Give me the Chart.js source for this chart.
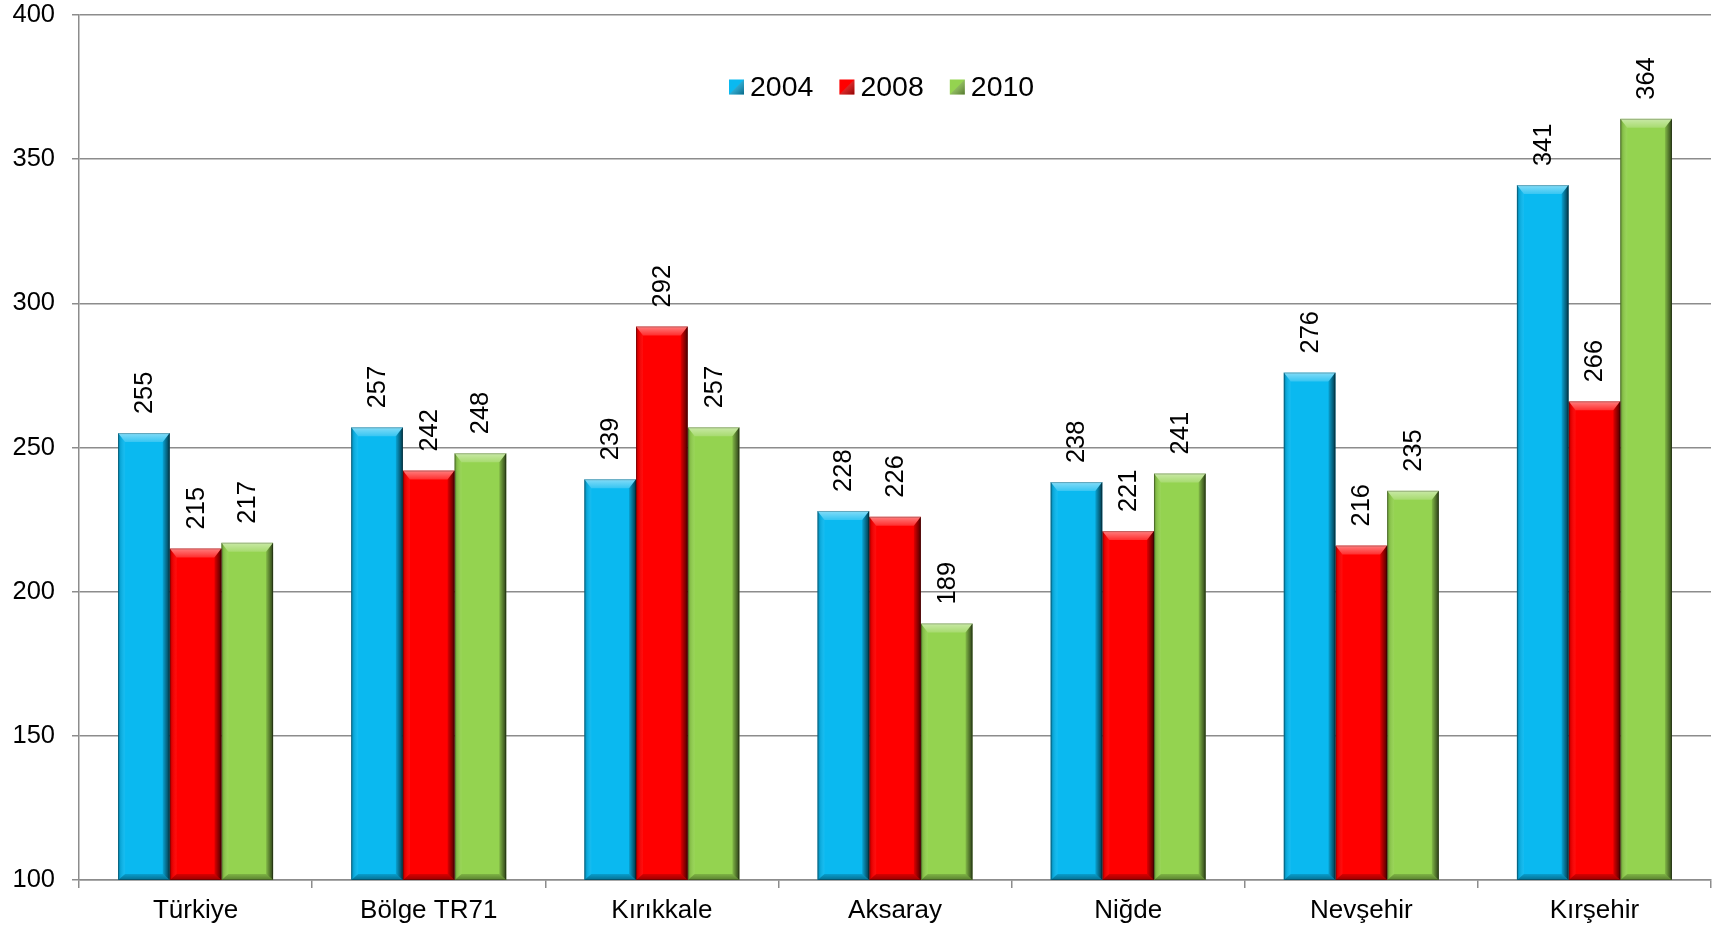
<!DOCTYPE html>
<html>
<head>
<meta charset="utf-8">
<script src="https://cdn.jsdelivr.net/npm/chart.js@4.4.1/dist/chart.umd.min.js"></script>
<style>
  html, body { margin: 0; padding: 0; background: #ffffff; }
  #wrap { width: 1719px; height: 931px; position: relative; }
</style>
</head>
<body>
<div id="wrap"><canvas id="c" width="1719" height="931"></canvas></div>
<script>
const categories = ["Türkiye", "Bölge TR71", "Kırıkkale", "Aksaray", "Niğde", "Nevşehir", "Kırşehir"];
const seriesNames = ["2004", "2008", "2010"];
const values2004 = [255, 257, 239, 228, 238, 276, 341];
const values2008 = [215, 242, 292, 226, 221, 216, 266];
const values2010 = [217, 248, 257, 189, 241, 235, 364];
const yTicks = [100, 150, 200, 250, 300, 350, 400];
const colors = ["#0AB9F0", "#FF0000", "#94D350"];

const FONT = "'Liberation Sans', Arial, sans-serif";

function bevel(ctx, L, R, T, B, alphaScale) {
  const s = alphaScale || 1;
  const w = R - L;
  const e = Math.min(7, w / 4);
  const tb = Math.min(9, (B - T) / 3);
  const bb = Math.min(6, (B - T) / 4);
  let g = ctx.createLinearGradient(0, T, 0, T + tb);
  g.addColorStop(0, 'rgba(255,255,255,' + 0.5 * s + ')');
  g.addColorStop(1, 'rgba(255,255,255,' + 0.18 * s + ')');
  ctx.fillStyle = g;
  ctx.beginPath();
  ctx.moveTo(L, T); ctx.lineTo(R, T); ctx.lineTo(R - e, T + tb); ctx.lineTo(L + e, T + tb); ctx.closePath();
  ctx.fill();
  g = ctx.createLinearGradient(R - e, 0, R, 0);
  g.addColorStop(0, 'rgba(0,0,0,' + 0.12 * s + ')');
  g.addColorStop(1, 'rgba(0,0,0,' + 0.7 * s + ')');
  ctx.fillStyle = g;
  ctx.beginPath();
  ctx.moveTo(R, T); ctx.lineTo(R, B); ctx.lineTo(R - e, B - bb); ctx.lineTo(R - e, T + tb); ctx.closePath();
  ctx.fill();
  g = ctx.createLinearGradient(L, 0, L + e, 0);
  g.addColorStop(0, 'rgba(0,0,0,' + 0.35 * s + ')');
  g.addColorStop(0.35, 'rgba(0,0,0,' + 0.1 * s + ')');
  g.addColorStop(1, 'rgba(255,255,255,' + 0.05 * s + ')');
  ctx.fillStyle = g;
  ctx.beginPath();
  ctx.moveTo(L, T); ctx.lineTo(L + e, T + tb); ctx.lineTo(L + e, B - bb); ctx.lineTo(L, B); ctx.closePath();
  ctx.fill();
  g = ctx.createLinearGradient(0, B - bb, 0, B);
  g.addColorStop(0, 'rgba(0,0,0,' + 0.15 * s + ')');
  g.addColorStop(1, 'rgba(0,0,0,' + 0.4 * s + ')');
  ctx.fillStyle = g;
  ctx.beginPath();
  ctx.moveTo(L, B); ctx.lineTo(L + e, B - bb); ctx.lineTo(R - e, B - bb); ctx.lineTo(R, B); ctx.closePath();
  ctx.fill();
  ctx.strokeStyle = 'rgba(0,0,0,' + 0.25 * s + ')';
  ctx.lineWidth = 1;
  ctx.strokeRect(L + 0.5, T + 0.5, w - 1, B - T - 1);
}

const bevelAndLabels = {
  id: 'bevelAndLabels',
  afterDatasetsDraw(chart) {
    const ctx = chart.ctx;
    const area = chart.chartArea;
    chart.data.datasets.forEach((ds, i) => {
      const meta = chart.getDatasetMeta(i);
      meta.data.forEach((el, j) => {
        const p = el.getProps(['x', 'y', 'base', 'width'], true);
        const L = p.x - p.width / 2, R = p.x + p.width / 2;
        const T = Math.max(Math.min(p.y, p.base), area.top);
        const B = Math.min(Math.max(p.y, p.base), area.bottom);
        ctx.save();
        ctx.beginPath();
        ctx.rect(area.left, area.top, area.right - area.left, area.bottom - area.top);
        ctx.clip();
        bevel(ctx, L, R, T, B, 1);
        ctx.restore();
        ctx.save();
        ctx.translate(p.x, T - 19);
        ctx.rotate(-Math.PI / 2);
        ctx.font = '25.5px ' + FONT;
        ctx.fillStyle = '#000';
        ctx.textAlign = 'left';
        ctx.textBaseline = 'middle';
        ctx.fillText(String(ds.data[j]), 0, 1);
        ctx.restore();
      });
    });
  }
};

const innerLegend = {
  id: 'innerLegend',
  afterDraw(chart) {
    const ctx = chart.ctx;
    let x = 729;
    const cy = 87;
    ctx.save();
    ctx.font = '28.5px ' + FONT;
    ctx.textBaseline = 'middle';
    ctx.textAlign = 'left';
    chart.data.datasets.forEach((ds) => {
      const sz = 15;
      ctx.fillStyle = ds.backgroundColor;
      ctx.fillRect(x, cy - sz / 2, sz, sz);
      const L = x, R = x + sz, T = cy - sz / 2, B = cy + sz / 2;
      const g = ctx.createLinearGradient(L, T, R, B);
      g.addColorStop(0, 'rgba(255,255,255,0.15)');
      g.addColorStop(1, 'rgba(0,0,0,0.45)');
      ctx.fillStyle = g;
      ctx.beginPath();
      ctx.moveTo(R, T); ctx.lineTo(R, B); ctx.lineTo(L, B); ctx.lineTo(x + sz / 2, cy); ctx.closePath();
      ctx.fill();
      ctx.fillStyle = '#000';
      ctx.fillText(ds.label, x + sz + 6, cy + 1);
      x += sz + 6 + ctx.measureText(ds.label).width + 26;
    });
    ctx.restore();
  }
};

const dataSets = [values2004, values2008, values2010].map((v, i) => ({
  label: seriesNames[i],
  data: v,
  backgroundColor: colors[i],
  borderWidth: 0,
  categoryPercentage: 0.665,
  barPercentage: 1.0
}));

new Chart(document.getElementById('c'), {
  type: 'bar',
  data: { labels: categories, datasets: dataSets },
  options: {
    responsive: false,
    animation: false,
    devicePixelRatio: 1,
    layout: { padding: { top: 0, right: 8, left: 0, bottom: 0 } },
    plugins: {
      legend: { display: false },
      tooltip: { enabled: false }
    },
    scales: {
      x: {
        offset: true,
        grid: {
          display: true,
          offset: true,
          drawOnChartArea: false,
          drawTicks: true,
          tickLength: 8,
          color: '#8c8c8c',
          lineWidth: 1.5
        },
        border: { display: true, color: '#8c8c8c', width: 1.5 },
        ticks: {
          color: '#000',
          font: { family: FONT, size: 26 },
          padding: 7,
          maxRotation: 0,
          autoSkip: false
        },
        afterFit(scale) { scale.height = 51; scale.paddingLeft = 0; scale.paddingRight = 0; }
      },
      y: {
        min: 100,
        max: 400,
        afterBuildTicks(scale) { scale.ticks = yTicks.map(v => ({ value: v })); },
        grid: {
          color: '#8c8c8c',
          lineWidth: 1.5,
          drawTicks: true,
          tickLength: 7
        },
        border: { display: true, color: '#8c8c8c', width: 1.5 },
        ticks: {
          color: '#000',
          font: { family: FONT, size: 25.5 },
          padding: 17
        },
        afterFit(scale) { scale.width = 79; scale.paddingTop = 15; scale.paddingBottom = 0; }
      }
    }
  },
  plugins: [bevelAndLabels, innerLegend]
});
</script>
</body>
</html>
